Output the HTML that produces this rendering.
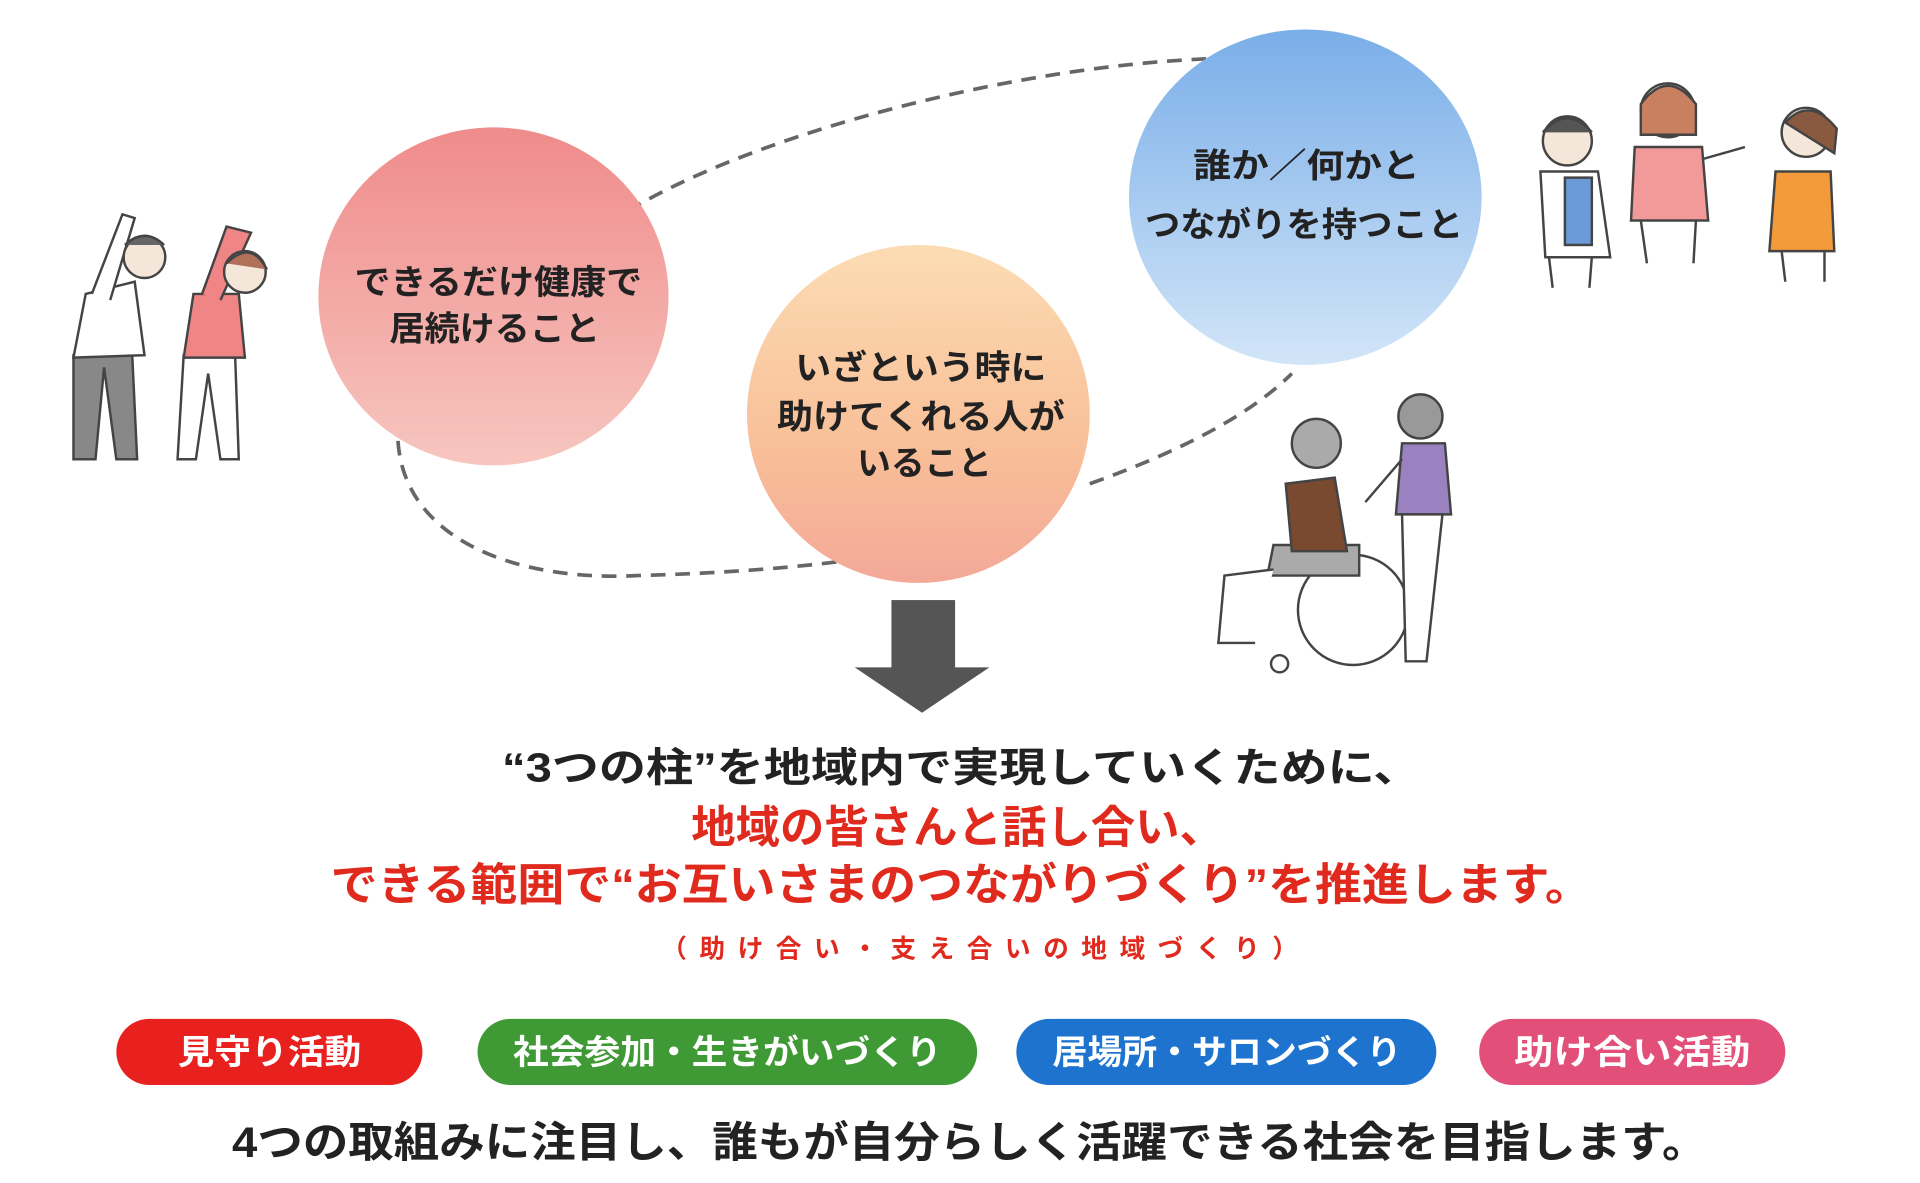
<!DOCTYPE html>
<html><head><meta charset="utf-8"><style>
html,body{margin:0;padding:0;background:#fff;}
svg{display:block}
text{font-family:"Liberation Sans","Noto Sans CJK JP",sans-serif;font-weight:bold;}
</style></head><body>
<svg width="1920" height="1183" viewBox="0 0 1568 966" xmlns="http://www.w3.org/2000/svg">
<defs>
<linearGradient id="gr" x1="0" y1="0" x2="0" y2="1"><stop offset="0" stop-color="#ef8b8b"/><stop offset="1" stop-color="#f7c6bf"/></linearGradient>
<linearGradient id="go" x1="0" y1="0" x2="0" y2="1"><stop offset="0" stop-color="#fcdcb4"/><stop offset="0.6" stop-color="#f8bf98"/><stop offset="1" stop-color="#f4a898"/></linearGradient>
<linearGradient id="gb" x1="0" y1="0" x2="0" y2="1"><stop offset="0" stop-color="#7aaee8"/><stop offset="1" stop-color="#d2e5f8"/></linearGradient>
</defs>
<rect width="1568" height="966" fill="#fff"/>
<!-- dashed loop -->
<g fill="none" stroke="#666" stroke-width="3" stroke-dasharray="12,8">
<path d="M985,48 C820,55 620,110 520,168"/>
<path d="M325,360 C330,440 420,475 520,470 C600,468 660,462 690,458"/>
<path d="M890,395 C960,370 1020,340 1055,305"/>
</g>
<!-- circles -->
<ellipse cx="403" cy="242" rx="143" ry="138" fill="url(#gr)"/>
<ellipse cx="750" cy="338" rx="140" ry="138" fill="url(#go)"/>
<ellipse cx="1066" cy="161" rx="144" ry="137" fill="url(#gb)"/>
<g fill="#222" font-size="28" text-anchor="middle">
<text x="407" y="240" textLength="235" lengthAdjust="spacingAndGlyphs">できるだけ健康で</text>
<text x="404" y="278" textLength="172" lengthAdjust="spacingAndGlyphs">居続けること</text>
<text x="752" y="310" textLength="205" lengthAdjust="spacingAndGlyphs">いざという時に</text>
<text x="752" y="350" textLength="235" lengthAdjust="spacingAndGlyphs">助けてくれる人が</text>
<text x="755" y="388" textLength="110" lengthAdjust="spacingAndGlyphs">いること</text>
<text x="1067" y="145" textLength="185" lengthAdjust="spacingAndGlyphs">誰か／何かと</text>
<text x="1065" y="193" textLength="260" lengthAdjust="spacingAndGlyphs">つながりを持つこと</text>
</g>
<!-- arrow -->
<rect x="728" y="490" width="52" height="56" fill="#555"/>
<polygon points="698,545 808,545 753,582" fill="#555"/>
<!-- texts -->
<text x="785" y="638" font-size="33" fill="#222" text-anchor="middle" textLength="750" lengthAdjust="spacingAndGlyphs">“3つの柱”を地域内で実現していくために、</text>
<text x="782" y="688" font-size="36" fill="#e02a1e" text-anchor="middle" textLength="435" lengthAdjust="spacingAndGlyphs">地域の皆さんと話し合い、</text>
<text x="785" y="735" font-size="36" fill="#e02a1e" text-anchor="middle" textLength="1030" lengthAdjust="spacingAndGlyphs">できる範囲で“お互いさまのつながりづくり”を推進します。</text>
<text x="800" y="782" font-size="21" fill="#e02a1e" text-anchor="middle" textLength="520" lengthAdjust="spacing">（助け合い・支え合いの地域づくり）</text>
<!-- pills -->
<rect x="95" y="832" width="250" height="54" rx="27" fill="#e8201e"/>
<rect x="390" y="832" width="408" height="54" rx="27" fill="#3f9a35"/>
<rect x="830" y="832" width="343" height="54" rx="27" fill="#1e73cf"/>
<rect x="1208" y="832" width="250" height="54" rx="27" fill="#e2507a"/>
<g fill="#fff" font-size="28" text-anchor="middle">
<text x="220" y="869" textLength="150" lengthAdjust="spacingAndGlyphs">見守り活動</text>
<text x="594" y="869" textLength="350" lengthAdjust="spacingAndGlyphs">社会参加・生きがいづくり</text>
<text x="1002" y="869" textLength="285" lengthAdjust="spacingAndGlyphs">居場所・サロンづくり</text>
<text x="1333" y="869" textLength="193" lengthAdjust="spacingAndGlyphs">助け合い活動</text>
</g>
<text x="792" y="945" font-size="35" fill="#222" text-anchor="middle" textLength="1205" lengthAdjust="spacingAndGlyphs">4つの取組みに注目し、誰もが自分らしく活躍できる社会を目指します。</text>
<!-- illustrations -->
<g stroke="#444" stroke-width="2" fill="#fff">
<!-- exercise left man -->
<path d="M60,290 L60,375 L78,375 L85,300 L95,375 L112,375 L108,290 Z" fill="#888"/>
<path d="M70,240 L110,230 L118,290 L60,292 Z" fill="#fff"/>
<path d="M75,240 L100,175 L110,178 L90,245" fill="#fff"/>
<circle cx="118" cy="210" r="17" fill="#f5e6da"/>
<path d="M102,200 Q118,185 134,200" fill="#666"/>
<!-- exercise right woman -->
<path d="M150,290 L145,375 L160,375 L170,305 L180,375 L195,375 L192,290 Z" fill="#fff"/>
<path d="M158,240 L195,240 L200,292 L150,292 Z" fill="#f08585"/>
<path d="M165,240 L185,185 L205,190 L180,245" fill="#f08585"/>
<circle cx="200" cy="222" r="17" fill="#f5e6da"/>
<path d="M185,215 Q205,195 218,220" fill="#b0705a"/>
<!-- group people -->
<circle cx="1280" cy="115" r="20" fill="#f5e6da"/>
<path d="M1260,108 Q1280,85 1300,108" fill="#555"/>
<path d="M1258,140 L1305,140 L1315,210 L1262,210 Z" fill="#fff"/>
<rect x="1278" y="145" width="22" height="55" fill="#6a9bd8"/>
<path d="M1265,210 L1268,235 M1300,210 L1298,235" />
<circle cx="1362" cy="90" r="22" fill="#f5e6da"/>
<path d="M1340,85 Q1362,55 1385,85 L1385,110 L1340,110 Z" fill="#c88060"/>
<path d="M1335,120 L1390,120 L1395,180 L1332,180 Z" fill="#f29a9a"/>
<path d="M1390,130 L1425,120" />
<path d="M1340,180 L1345,215 M1385,180 L1383,215"/>
<circle cx="1475" cy="108" r="20" fill="#f5e6da"/>
<path d="M1458,100 Q1478,78 1500,105 L1498,125 Z" fill="#8a5a40"/>
<path d="M1450,140 L1495,140 L1498,205 L1445,205 Z" fill="#f39a3a"/>
<path d="M1455,205 L1458,230 M1490,205 L1490,230"/>
<!-- wheelchair -->
<circle cx="1105" cy="498" r="45" fill="none"/>
<circle cx="1045" cy="542" r="7" fill="#fff"/>
<path d="M1040,445 L1110,445 L1110,470 L1035,470 Z" fill="#aaa"/>
<path d="M1050,395 L1090,390 L1100,450 L1055,450 Z" fill="#7a4a30"/>
<circle cx="1075" cy="362" r="20" fill="#aaa"/>
<path d="M1040,465 L1000,470 L995,525 L1025,525" fill="#fff"/>
<circle cx="1160" cy="340" r="18" fill="#999"/>
<path d="M1145,362 L1180,362 L1185,420 L1140,420 Z" fill="#9a82c0"/>
<path d="M1145,420 L1148,540 L1165,540 L1178,420 Z" fill="#fff"/>
<path d="M1145,375 L1115,410"/>
</g>
</svg>
</body></html>
